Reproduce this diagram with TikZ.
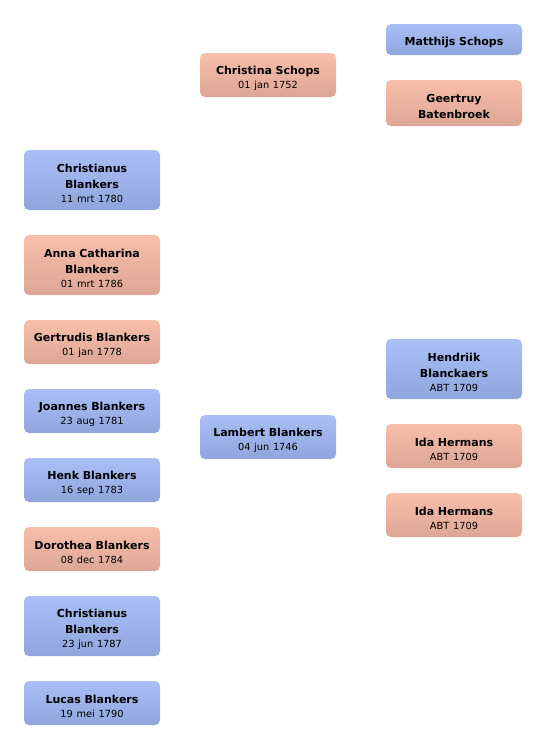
\documentclass[tikz,border=0pt]{standalone}
\usepackage{fontspec}
\setmainfont{DejaVu Sans}
\definecolor{maletop}{HTML}{A9BFF6}
\definecolor{malebot}{HTML}{91A5DD}
\definecolor{femtop}{HTML}{F8C0AA}
\definecolor{fembot}{HTML}{DDA594}
\newcommand{\pname}[1]{{\bfseries #1}}
\newcommand{\pdate}[1]{\\[-1.5pt]{\fontsize{9.8}{11}\selectfont #1}}
\begin{document}
\begin{tikzpicture}[x=1pt, y=-1pt,
    person/.style={rectangle, rounded corners=5pt, minimum width=136pt,
        text width=132pt, align=center, inner sep=2pt,
        font=\fontsize{11}{16}\selectfont,
        execute at begin node={\rule{0pt}{15pt}}},
    male/.style={person, top color=maletop, bottom color=malebot},
    female/.style={person, top color=femtop, bottom color=fembot}]
    \useasboundingbox (0,0) rectangle (546,750);

    % grandparents
    \node[male, minimum height=31pt] (matthijs) at (454,39.5) {\pname{Matthijs Schops}};
    \node[female, minimum height=46pt] (geertruy) at (454,103) {\pname{Geertruy\\Batenbroek}};
    \node[male, minimum height=60pt] (hendriik) at (454,369) {\pname{Hendriik\\Blanckaers}\pdate{ABT 1709}};
    \node[female, minimum height=44pt] (ida1) at (454,446) {\pname{Ida Hermans}\pdate{ABT 1709}};
    \node[female, minimum height=44pt] (ida2) at (454,515) {\pname{Ida Hermans}\pdate{ABT 1709}};

    % parents
    \node[female, minimum height=44pt] (christina) at (268,75) {\pname{Christina Schops}\pdate{01 jan 1752}};
    \node[male, minimum height=44pt] (lambert) at (268,437) {\pname{Lambert Blankers}\pdate{04 jun 1746}};

    % children
    \node[male, minimum height=60pt] (christianus) at (92,180) {\pname{Christianus\\Blankers}\pdate{11 mrt 1780}};
    \node[female, minimum height=60pt] (anna) at (92,265) {\pname{Anna Catharina\\Blankers}\pdate{01 mrt 1786}};
    \node[female, minimum height=44pt] (gertrudis) at (92,342) {\pname{Gertrudis Blankers}\pdate{01 jan 1778}};
    \node[male, minimum height=44pt] (joannes) at (92,411) {\pname{Joannes Blankers}\pdate{23 aug 1781}};
    \node[male, minimum height=44pt] (henk) at (92,480) {\pname{Henk Blankers}\pdate{16 sep 1783}};
    \node[female, minimum height=44pt] (dorothea) at (92,549) {\pname{Dorothea Blankers}\pdate{08 dec 1784}};
    \node[male, minimum height=60pt] (christianustwo) at (92,626) {\pname{Christianus\\Blankers}\pdate{23 jun 1787}};
    \node[male, minimum height=44pt] (lucas) at (92,703) {\pname{Lucas Blankers}\pdate{19 mei 1790}};
\end{tikzpicture}
\end{document}
